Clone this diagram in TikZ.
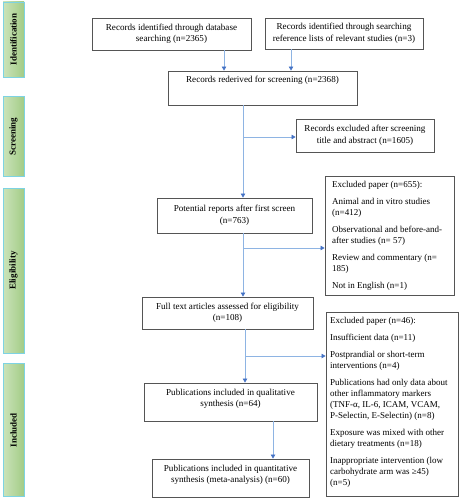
\documentclass[tikz,border=0pt]{standalone}
\usepackage{fontspec}
\setmainfont{Liberation Serif}
\usetikzlibrary{arrows.meta}
\definecolor{boxline}{HTML}{555555}
\definecolor{linkblue}{HTML}{8EB4E3}
\definecolor{headblue}{HTML}{4472C4}
\definecolor{bandL}{HTML}{CBE3BA}
\definecolor{bandR}{HTML}{A2CC86}
\definecolor{bandedge}{HTML}{7DD3E3}
\begin{document}
\begin{tikzpicture}[x=1pt,y=-1pt,
  box/.style={draw=boxline, line width=0.9pt, fill=white, inner sep=0pt},
  txt/.style={font=\fontsize{9.1}{11.5}\selectfont, align=center, inner sep=0pt},
  lst/.style={font=\fontsize{9}{11}\selectfont, align=left, inner sep=0pt, anchor=north west},
  band/.style={draw=bandedge, line width=0.8pt, left color=bandL, right color=bandR, inner sep=0pt, minimum width=21pt},
  bandtxt/.style={font=\fontsize{9}{11}\selectfont\bfseries, rotate=90, inner sep=0pt},
  arr/.style={draw=linkblue, line width=0.8pt, -{Triangle[length=4pt,width=4.5pt,color=headblue]}}]
\useasboundingbox (0,0) rectangle (459,500);

% phase bands
\node[band, minimum height=75pt] (p1) at (13.5,39.5) {};
\node[bandtxt] (p1t) at (p1) {Identification};
\node[band, minimum height=80pt] (p2) at (13.5,136.5) {};
\node[bandtxt] (p2t) at (p2) {Screening};
\node[band, minimum height=165pt] (p3) at (13.5,270.5) {};
\node[bandtxt] (p3t) at (p3) {Eligibility};
\node[band, minimum height=133pt] (p4) at (13.5,430) {};
\node[bandtxt] (p4t) at (p4) {Included};

% boxes
\node[box, txt, minimum width=159pt, minimum height=32pt] (b1) at (171.5,34)
  {Records identified through database\\searching (n=2365)};
\node[box, txt, minimum width=158pt, minimum height=31pt] (b2) at (344,33.5)
  {Records identified through searching\\reference lists of relevant studies (n=3)};
\node[box, minimum width=189pt, minimum height=34pt] (b3) at (262.5,88) {};
\node[txt, anchor=base] (b3t) at (262.5,83) {Records rederived for screening (n=2368)};
\node[box, txt, minimum width=138pt, minimum height=33pt] (b4) at (365,135.5)
  {Records excluded after screening\\title and abstract (n=1605)};
\node[box, txt, minimum width=155pt, minimum height=35pt] (b5) at (234.5,215.5)
  {Potential reports after first screen\\(n=763)};
\node[box, minimum width=129pt, minimum height=119pt] (b6) at (389.5,235.5) {};
\node[lst] (b6t) at (332,181) {Excluded paper (n=655):\\[6pt]
  Animal and in vitro studies\\(n=412)\\[6pt]
  Observational and before-and-\\after studies (n= 57)\\[6pt]
  Review and commentary (n=\\185)\\[6pt]
  Not in English (n=1)};
\node[box, txt, minimum width=171pt, minimum height=32pt] (b7) at (227.5,313)
  {Full text articles assessed for eligibility\\(n=108)};
\node[box, minimum width=132pt, minimum height=184pt] (b8) at (392,404) {};
\node[lst] (b8t) at (330,317) {Excluded paper (n=46):\\[6pt]
  Insufficient data (n=11)\\[6pt]
  Postprandial or short-term\\interventions (n=4)\\[6pt]
  Publications had only data about\\other inflammatory markers\\(TNF-α, IL-6, ICAM, VCAM,\\P-Selectin, E-Selectin) (n=8)\\[6pt]
  Exposure was mixed with other\\dietary treatments (n=18)\\[6pt]
  Inappropriate intervention (low\\carbohydrate arm was ≥45)\\(n=5)};
\node[box, minimum width=173pt, minimum height=38pt] (b9) at (230.5,402) {};
\node[txt] (b9t) at (230.5,399) {Publications included in qualitative\\synthesis (n=64)};
\node[box, minimum width=157pt, minimum height=38pt] (b10) at (230.5,478) {};
\node[txt] (b10t) at (230.5,475) {Publications included in quantitative\\synthesis (meta-analysis) (n=60)};

% connectors
\coordinate (c1) at (224,0);
\coordinate (c2) at (291,0);
\coordinate (c3) at (243,0);
\coordinate (j1) at (243,137);
\coordinate (j2) at (243,248);
\coordinate (j3) at (245,356);
\coordinate (c4) at (273,0);
\draw[arr] (b1.south -| c1) -- (b3.north -| c1);
\draw[arr] (b2.south -| c2) -- (b3.north -| c2);
\draw[arr] (b3.south -| c3) -- (b5.north -| c3);
\draw[arr] (j1) -- (j1 -| b4.west);
\draw[arr] (b5.south -| j2) -- (b7.north -| j2);
\draw[arr] (j2) -- (j2 -| b6.west);
\draw[arr] (b7.south -| j3) -- (b9.north -| j3);
\draw[arr] (j3) -- (j3 -| b8.west);
\draw[arr] (b9.south -| c4) -- (b10.north -| c4);
\end{tikzpicture}
\end{document}
